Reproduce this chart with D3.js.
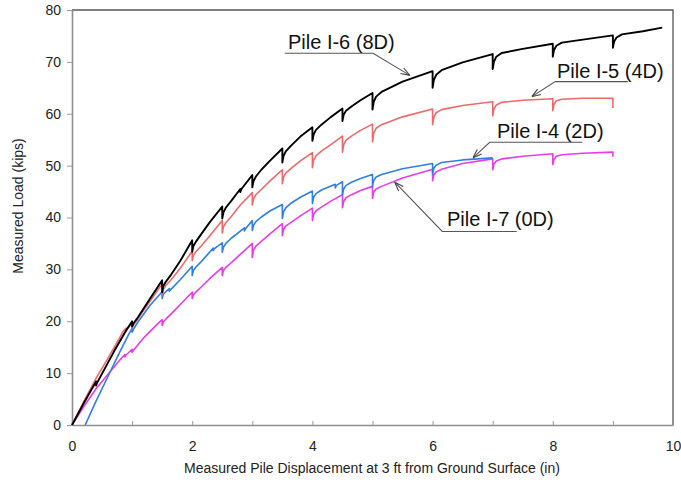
<!DOCTYPE html>
<html>
<head>
<meta charset="utf-8">
<script src="https://cdn.jsdelivr.net/npm/d3@7/dist/d3.min.js"></script>
<style>
  html, body { margin: 0; padding: 0; background: #fff; }
  svg { display: block; font-family: "Liberation Sans", Arial, sans-serif; }
</style>
</head>
<body>
<svg id="chart" width="681" height="483"></svg>
<script>
// Load-displacement records, [displacement (in), load (kips)]
const pileI6 = [[0,0],[0.2,4.3],[0.4,8.4],[0.4,7.6],[0.42,8.2],[0.5,9.9],[0.7,14.2],[0.9,18.2],[1.0,20.0],[1.0,19.0],[1.03,19.7],[1.1,20.8],[1.3,24.4],[1.5,27.9],[1.5,25.6],[1.52,26.8],[1.56,27.6],[1.65,29.0],[1.8,31.6],[2.0,35.6],[2.0,33.4],[2.02,34.5],[2.06,35.3],[2.15,36.8],[2.3,39.2],[2.5,42.1],[2.5,39.8],[2.52,41.0],[2.56,41.9],[2.65,43.2],[2.8,45.5],[2.8,44.9],[2.82,45.5],[3.0,48.2],[3.0,45.8],[3.02,47.0],[3.06,47.9],[3.15,49.2],[3.3,51.0],[3.5,53.3],[3.5,50.6],[3.52,51.9],[3.56,52.8],[3.65,53.9],[3.8,55.6],[4.0,57.4],[4.0,54.8],[4.02,56.0],[4.06,56.9],[4.15,57.9],[4.3,59.3],[4.5,61.0],[4.5,58.6],[4.52,59.8],[4.56,60.6],[4.65,61.4],[4.8,62.6],[5.0,64.0],[5.0,60.8],[5.02,62.3],[5.06,63.3],[5.15,64.2],[5.5,66.2],[6.0,68.2],[6.0,65.0],[6.02,66.5],[6.06,67.5],[6.15,68.4],[6.5,69.9],[7.0,71.5],[7.0,68.6],[7.02,70.0],[7.06,71.0],[7.15,71.7],[7.5,72.5],[8.0,73.5],[8.0,71.0],[8.02,72.3],[8.06,73.1],[8.15,73.7],[8.5,74.3],[9.0,75.1],[9.0,72.7],[9.02,73.9],[9.06,74.7],[9.15,75.3],[9.5,75.9],[9.82,76.6]];

const pileI5 = [[0,0],[0.2,4.6],[0.4,9.0],[0.6,12.9],[0.85,18.0],[0.9,18.7],[0.9,18.1],[0.92,18.5],[1.0,19.6],[1.0,18.7],[1.03,19.4],[1.1,20.5],[1.3,23.9],[1.5,27.2],[1.5,25.0],[1.52,26.1],[1.56,26.9],[1.65,28.0],[1.8,30.2],[2.0,33.5],[2.0,31.7],[2.02,32.7],[2.06,33.4],[2.15,34.5],[2.3,36.6],[2.5,39.4],[2.5,37.0],[2.52,38.2],[2.56,39.0],[2.65,40.2],[2.8,42.4],[3.0,44.8],[3.0,42.4],[3.02,43.6],[3.06,44.4],[3.15,45.4],[3.3,47.1],[3.5,49.2],[3.5,46.5],[3.52,47.8],[3.56,48.6],[3.65,49.5],[3.8,50.9],[4.0,52.5],[4.0,49.6],[4.02,51.0],[4.06,51.9],[4.15,52.8],[4.3,54.0],[4.5,55.7],[4.5,52.6],[4.52,54.0],[4.56,54.9],[4.65,55.7],[4.8,56.8],[5.0,58.0],[5.0,54.6],[5.02,56.2],[5.06,57.2],[5.15,57.9],[5.5,59.4],[6.0,60.9],[6.0,57.9],[6.02,59.3],[6.06,60.2],[6.15,60.8],[6.5,61.6],[7.0,62.3],[7.0,59.6],[7.02,60.9],[7.06,61.7],[7.15,62.2],[7.5,62.6],[8.0,62.9],[8.0,60.6],[8.02,61.8],[8.06,62.5],[8.15,62.8],[8.5,63.0],[9.0,63.0],[9.0,61.1]];

const pileI4 = [[0.22,0],[0.4,4.6],[0.6,9.4],[0.8,14.2],[0.95,17.6],[1.0,18.6],[1.0,17.9],[1.03,18.6],[1.1,19.9],[1.3,23.1],[1.5,25.7],[1.5,24.4],[1.52,25.2],[1.56,25.7],[1.62,26.3],[1.62,25.8],[1.65,26.2],[1.8,28.0],[2.0,30.6],[2.0,28.8],[2.02,29.8],[2.06,30.4],[2.15,31.5],[2.35,34.1],[2.35,33.6],[2.37,34.0],[2.5,35.1],[2.5,33.3],[2.52,34.3],[2.56,35.0],[2.65,36.0],[2.87,38.0],[2.87,37.4],[2.89,37.9],[3.0,39.4],[3.0,37.5],[3.02,38.5],[3.06,39.2],[3.15,40.1],[3.3,41.3],[3.5,42.5],[3.5,39.8],[3.52,41.1],[3.56,41.9],[3.65,42.8],[3.8,43.9],[4.0,45.1],[4.0,42.7],[4.02,43.9],[4.06,44.6],[4.15,45.3],[4.38,46.4],[4.38,45.7],[4.4,46.2],[4.5,46.9],[4.5,44.3],[4.52,45.5],[4.56,46.2],[4.65,46.8],[4.8,47.5],[5.0,48.3],[5.0,46.0],[5.02,47.1],[5.06,47.8],[5.15,48.3],[5.5,49.4],[6.0,50.4],[6.0,48.4],[6.02,49.5],[6.06,50.1],[6.15,50.6],[6.5,51.1],[7.0,51.5]];

const pileI7 = [[0,0],[0.2,3.6],[0.4,7.0],[0.63,10.2],[0.8,12.6],[0.88,13.6],[0.88,13.1],[0.9,13.5],[1.0,14.6],[1.0,14.0],[1.03,14.5],[1.2,16.9],[1.4,19.2],[1.5,20.3],[1.5,19.2],[1.52,19.9],[1.56,20.4],[1.7,22.0],[1.85,23.8],[2.0,25.6],[2.0,24.4],[2.02,25.1],[2.06,25.6],[2.15,26.6],[2.3,28.3],[2.5,30.4],[2.5,28.8],[2.52,29.8],[2.56,30.4],[2.65,31.3],[2.8,32.9],[3.0,35.0],[3.0,32.3],[3.02,33.7],[3.06,34.5],[3.15,35.4],[3.3,36.9],[3.5,38.8],[3.5,36.5],[3.52,37.7],[3.56,38.4],[3.65,39.1],[3.8,40.3],[4.0,41.8],[4.0,39.4],[4.02,40.6],[4.06,41.3],[4.15,42.0],[4.3,43.1],[4.5,44.4],[4.5,41.9],[4.52,43.1],[4.56,43.8],[4.65,44.4],[4.8,45.2],[5.0,46.0],[5.0,43.7],[5.02,44.9],[5.06,45.5],[5.15,46.0],[5.5,47.6],[6.0,49.3],[6.0,47.1],[6.02,48.2],[6.06,48.8],[6.15,49.3],[6.5,50.4],[7.0,51.3],[7.0,49.2],[7.02,50.3],[7.06,50.9],[7.15,51.3],[7.5,51.8],[8.0,52.3],[8.0,50.2],[8.02,51.2],[8.06,51.8],[8.15,52.1],[8.5,52.4],[9.0,52.6],[9.0,51.7]];

const seriesNames = ["Pile I-6 (8D)", "Pile I-5 (4D)", "Pile I-4 (2D)", "Pile I-7 (0D)"];
const seriesData = [pileI6, pileI5, pileI4, pileI7];
const seriesColors = ["#000000", "#ee6a6a", "#2f7fe6", "#e83de8"];

const xTicks = [0, 1, 2, 3, 4, 5, 6, 7, 8, 9, 10];
const yTicks = [0, 10, 20, 30, 40, 50, 60, 70, 80];

// Callout for each curve: text anchor, leader line (underline start, elbow) and arrow tip, in data units
const calloutText = [[3.594, 72.4], [8.07, 66.9], [7.07, 55.3], [6.24, 38.4]];
const calloutLineStart = [[3.54, 71.65], [9.25, 66.2], [8.49, 54.5], [7.40, 37.3]];
const calloutLineElbow = [[5.01, 71.65], [8.04, 66.2], [6.95, 54.5], [6.16, 37.3]];
const calloutTip = [[5.62, 67.4], [7.65, 63.3], [6.67, 51.5], [5.37, 46.8]];

const svg = d3.select("#chart");
const plotLeft = 72, plotRight = 673, plotTop = 10, plotBottom = 425;

const x = d3.scaleLinear().domain([0, 10]).range([plotLeft, plotRight]);
const y = d3.scaleLinear().domain([0, 80]).range([plotBottom, plotTop]);

// frame: top and right borders
svg.append("path")
  .attr("d", `M${plotLeft},${plotTop}H${plotRight}V${plotBottom}`)
  .attr("fill", "none").attr("stroke", "#555").attr("stroke-width", 1.3);

// y axis
const yAxis = svg.append("g").attr("transform", `translate(${plotLeft},0)`)
  .call(d3.axisLeft(y).tickValues(yTicks).tickSize(5).tickPadding(6).tickSizeOuter(0));
// x axis
const xAxis = svg.append("g").attr("transform", `translate(0,${plotBottom})`)
  .call(d3.axisBottom(x).tickValues(xTicks).tickSize(-4).tickPadding(16).tickSizeOuter(0)
    .tickFormat(d => d % 2 === 0 ? d : ""));

[yAxis, xAxis].forEach(g => {
  g.select(".domain").attr("stroke", "#8f8f8f").attr("stroke-width", 1.6);
  g.selectAll(".tick line").attr("stroke", "#9a9a9a").attr("stroke-width", 1);
  g.selectAll(".tick text").attr("fill", "#222").attr("font-size", 14)
    .attr("font-family", "Liberation Sans, Arial, sans-serif");
});
xAxis.selectAll(".tick line").filter(d => d === 0 || d === 10).remove();

// axis titles
svg.append("text")
  .attr("x", 372).attr("y", 473).attr("text-anchor", "middle")
  .attr("font-size", 14).attr("fill", "#222")
  .text("Measured Pile Displacement at 3 ft from Ground Surface (in)");
svg.append("text")
  .attr("transform", "translate(23,206) rotate(-90)").attr("text-anchor", "middle")
  .attr("font-size", 14).attr("fill", "#222")
  .text("Measured Load (kips)");

// curves, black drawn last so it sits on top
const line = d3.line().x(d => x(d[0])).y(d => y(d[1])).curve(d3.curveLinear);
const order = [3, 2, 1, 0];
svg.append("g").selectAll("path")
  .data(order)
  .join("path")
  .attr("d", i => line(seriesData[i]))
  .attr("fill", "none")
  .attr("stroke", i => seriesColors[i])
  .attr("stroke-width", i => i === 0 ? 1.9 : 1.6)
  .attr("stroke-linejoin", "round");

// callouts
svg.append("defs").append("marker")
  .attr("id", "tip").attr("viewBox", "-10 -5 10 10")
  .attr("refX", 0).attr("refY", 0)
  .attr("markerWidth", 10).attr("markerHeight", 10)
  .attr("markerUnits", "userSpaceOnUse").attr("orient", "auto")
  .append("path").attr("d", "M-9,-3.2L0,0L-9,3.2").attr("fill", "none")
  .attr("stroke", "#444").attr("stroke-width", 1.1);

const callouts = svg.append("g");
seriesNames.forEach((name, i) => {
  callouts.append("path")
    .attr("d", d3.line()([calloutLineStart[i], calloutLineElbow[i], calloutTip[i]]
      .map(p => [x(p[0]), y(p[1])])))
    .attr("fill", "none").attr("stroke", "#555").attr("stroke-width", 1.1)
    .attr("marker-end", "url(#tip)");
  callouts.append("text")
    .attr("x", x(calloutText[i][0])).attr("y", y(calloutText[i][1]))
    .attr("font-size", 20).attr("fill", "#111")
    .text(name);
});
</script>
</body>
</html>
